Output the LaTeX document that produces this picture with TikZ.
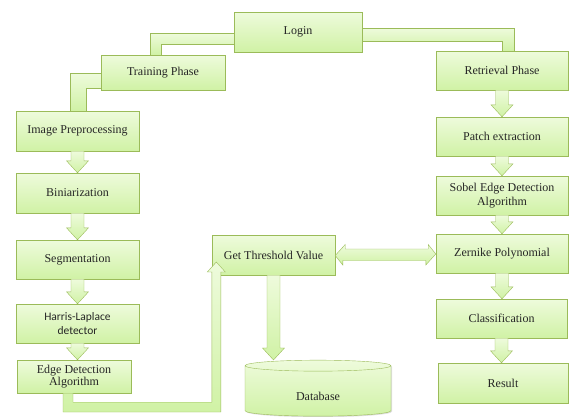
\documentclass[tikz,border=0pt]{standalone}
\usepackage{fontspec}
\setmainfont{Liberation Serif}
\newfontfamily\calibri{Carlito}
\usepackage{tikz}
\usetikzlibrary{arrows.meta, positioning, calc, shapes.geometric, shadows}

\definecolor{boxline}{RGB}{155,187,89}
\definecolor{boxtop}{RGB}{238,251,220}
\definecolor{boxbot}{RGB}{208,242,165}

% block arrow pointing down, from one node to the next
\newcommand{\blockdown}[2]{%
  \coordinate (tip) at (#1.south |- #2.north);
  \draw[band] ([xshift=-6.5]#1.south) -- ([xshift=-6.5,yshift=12]tip)
    -- ([xshift=-11,yshift=12]tip) -- (tip)
    -- ([xshift=11,yshift=12]tip) -- ([xshift=6.5,yshift=12]tip)
    -- ([xshift=6.5]#1.south) -- cycle;}

\begin{document}
\begin{tikzpicture}[
  x=1pt, y=-1pt,
  stagebox/.style = {draw=boxline, top color=boxtop, bottom color=boxbot,
    minimum width=123, minimum height=40, align=center, inner sep=1pt,
    font=\fontsize{12}{14}\selectfont, text=black!85,
    drop shadow={opacity=0.25, shadow xshift=1pt, shadow yshift=-1pt}},
  band/.style = {draw=boxline, top color=boxtop, bottom color=boxbot, line join=miter}
]
  \useasboundingbox (0,0) rectangle (569,416);

  % training side
  \node[stagebox, minimum width=128] (login) at (298,32) {Login};
  \node[stagebox, minimum width=124, minimum height=35] (train) at (163,72.5) {Training Phase};
  \node[stagebox] (imgpre) at (77.5,131) {Image Preprocessing};
  \node[stagebox] (binar) at (77.5,193) {Biniarization};
  \node[stagebox, minimum height=39] (segm) at (77.5,259.5) {Segmentation};
  \node[stagebox, minimum height=39, font=\calibri\fontsize{11.5}{14}\selectfont] (harris) at (77.5,323.5) {Harris-Laplace\\detector};
  \node[stagebox, minimum width=114, minimum height=33, font=\fontsize{12}{12.5}\selectfont] (edge) at (74,376.5) {Edge Detection\\Algorithm};

  % retrieval side
  \node[stagebox, minimum width=132, minimum height=39] (retr) at (502,70.5) {Retrieval Phase};
  \node[stagebox, minimum width=132, minimum height=39] (patch) at (502,136.5) {Patch extraction};
  \node[stagebox, minimum width=132, minimum height=39] (sobel) at (502,195.5) {Sobel Edge Detection\\Algorithm};
  \node[stagebox, minimum width=132, minimum height=39] (zern) at (502,253.5) {Zernike Polynomial};
  \node[stagebox, minimum width=131, minimum height=39] (classif) at (501.5,318.5) {Classification};
  \node[stagebox, minimum width=130] (result) at (503,383) {Result};

  % threshold and database
  \node[stagebox] (thresh) at (273.5,255) {Get Threshold Value};
  \node[stagebox, cylinder, shape border rotate=90, aspect=0.25,
        minimum width=146, minimum height=56, inner sep=0pt] (db) at (318,391) {\raisebox{-20pt}{Database}};

  % elbow bands from the login
  \draw[band] ([yshift=-1]login.west) -| ([xshift=-13]train.north)
    -- ([xshift=-2]train.north) |- ([yshift=-12]login.west) -- cycle;
  \draw[band] ([yshift=-0.5]train.west) -| ([xshift=-7.5]imgpre.north)
    -- ([xshift=8.5]imgpre.north) |- ([yshift=-15.5]train.west) -- cycle;
  \draw[band] ([yshift=4]login.east) -| ([xshift=12]retr.north)
    -- (retr.north) |- ([yshift=-9]login.east) -- cycle;

  % down arrows
  \blockdown{imgpre}{binar}
  \blockdown{binar}{segm}
  \blockdown{segm}{harris}
  \blockdown{harris}{edge}
  \blockdown{retr}{patch}
  \blockdown{patch}{sobel}
  \blockdown{sobel}{zern}
  \blockdown{zern}{classif}
  \blockdown{classif}{result}
  \blockdown{thresh}{db}

  % edge detection up to threshold
  \coordinate (tin) at ([xshift=4.5,yshift=-7]thresh.west);
  \draw[band] ([xshift=-11]edge.south) |- ($(tin)+(4.5,150)$) -- ++(0,-140)
    -- ++(4.5,0) -- (tin) -- ++(-9,10) -- ++(4.5,0)
    |- ([xshift=-1,yshift=-9]edge.south) -- ([xshift=-1]edge.south) -- cycle;

  % two way arrow between threshold and zernike
  \draw[band] ([yshift=-0.5]thresh.east) -- ++(10,-11) -- ++(0,4.5) -- ++(83,0)
    -- ++(0,-4.5) -- ([yshift=-0.5]zern.west) -- ++(-10,11) -- ++(0,-4.5)
    -- ++(-83,0) -- ++(0,4.5) -- cycle;
\end{tikzpicture}
\end{document}
